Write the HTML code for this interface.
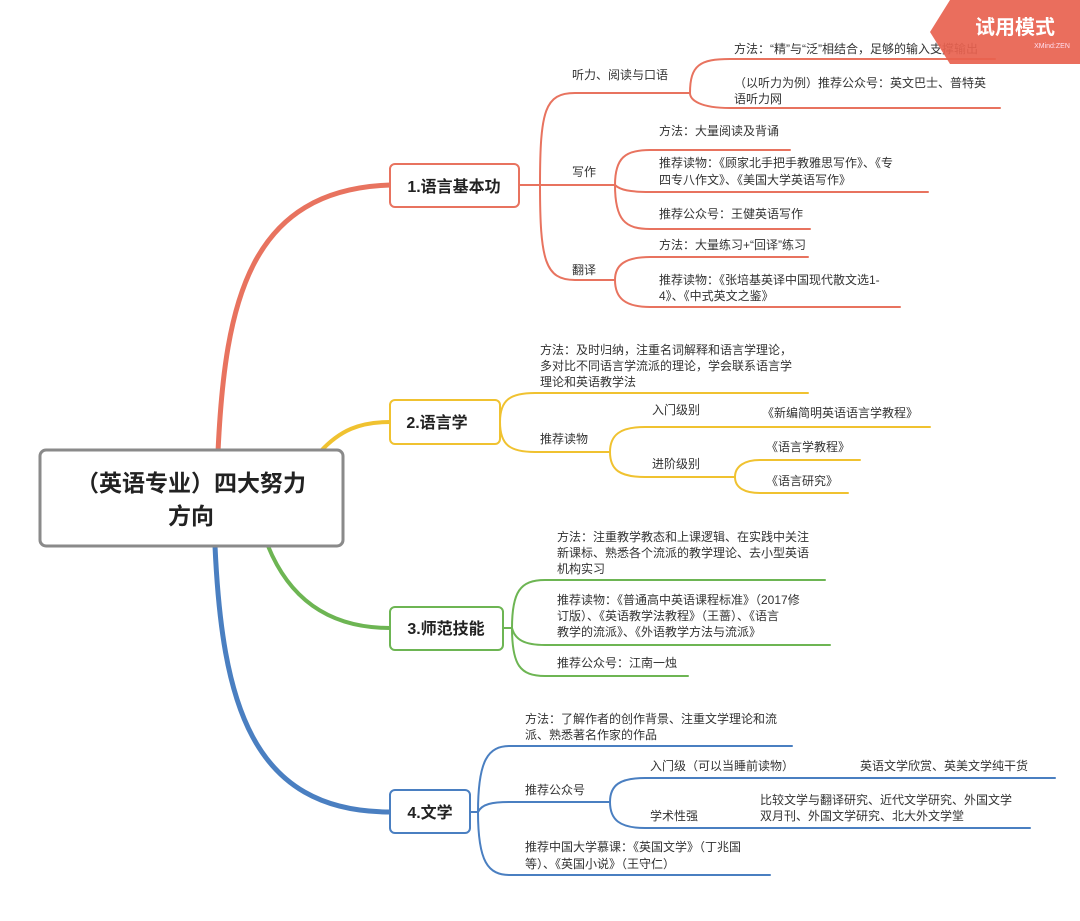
<!DOCTYPE html>
<html><head><meta charset="utf-8"><style>
body{margin:0;background:#fff}
svg text{font-family:"Liberation Sans","Noto Sans CJK SC",sans-serif;fill:#333;font-size:12px}
</style></head><body>
<svg width="1080" height="916" viewBox="0 0 1080 916" xmlns="http://www.w3.org/2000/svg">
<g fill="none" stroke-linecap="round">
<!-- main branches -->
<path d="M218 452 C 225 300, 250 190, 390 185" stroke="#e8735f" stroke-width="5"/>
<path d="M320 452 C 340 430, 360 422, 390 422" stroke="#f0c230" stroke-width="4"/>
<path d="M268 546 C 290 600, 330 628, 390 628" stroke="#6db553" stroke-width="4"/>
<path d="M215 546 C 222 700, 250 812, 390 812" stroke="#4a7fc1" stroke-width="5"/>
<!-- red -->
<g stroke="#e8735f" stroke-width="2">
<path d="M519 185 H540"/>
<path d="M540 185 C 540 110, 545 93, 575 93 H690"/>
<path d="M540 185 H615"/>
<path d="M540 185 C 540 260, 545 280, 575 280 H615"/>
<path d="M690 93 C 690 65, 700 59, 730 59 H995"/>
<path d="M690 93 C 690 100, 700 108, 730 108 H1000"/>
<path d="M615 185 C 615 158, 625 150, 650 150 H790"/>
<path d="M615 185 C 620 190, 630 192, 650 192 H928"/>
<path d="M615 185 C 615 220, 625 229, 650 229 H810"/>
<path d="M615 280 C 615 265, 625 257, 650 257 H808"/>
<path d="M615 280 C 615 298, 625 307, 650 307 H900"/>
</g>
<!-- yellow -->
<g stroke="#f0c230" stroke-width="2">
<path d="M500 422 C 500 400, 510 393, 535 393 H808"/>
<path d="M500 422 C 500 445, 510 452, 535 452 H610"/>
<path d="M610 452 C 610 435, 620 427, 645 427 H930"/>
<path d="M610 452 C 610 470, 620 477, 645 477 H735"/>
<path d="M735 477 C 735 466, 745 460, 760 460 H860"/>
<path d="M735 477 C 735 488, 745 493, 760 493 H848"/>
</g>
<!-- green -->
<g stroke="#6db553" stroke-width="2">
<path d="M503 628 H512"/>
<path d="M512 628 C 512 592, 520 580, 545 580 H825"/>
<path d="M512 628 C 515 640, 525 645, 545 645 H830"/>
<path d="M512 628 C 512 665, 520 676, 545 676 H688"/>
</g>
<!-- blue -->
<g stroke="#4a7fc1" stroke-width="2">
<path d="M470 812 H478"/>
<path d="M478 812 C 478 760, 488 746, 510 746 H792"/>
<path d="M478 812 C 482 804, 492 802, 510 802 H610"/>
<path d="M478 812 C 478 862, 488 875, 510 875 H770"/>
<path d="M610 802 C 610 785, 620 778, 645 778 H1055"/>
<path d="M610 802 C 610 820, 620 828, 645 828 H1030"/>
</g>
</g>
<!-- boxes -->
<rect x="40" y="450" width="303" height="96" rx="6" fill="#fff" stroke="#8a8a8a" stroke-width="3"/>
<text x="191" y="491" text-anchor="middle" style="font-size:23px;font-weight:bold;fill:#222">（英语专业）四大努力</text>
<text x="191" y="524" text-anchor="middle" style="font-size:23px;font-weight:bold;fill:#222">方向</text>
<rect x="390" y="164" width="129" height="43" rx="5" fill="#fff" stroke="#e8735f" stroke-width="2"/>
<text x="454" y="192" text-anchor="middle" style="font-size:16px;font-weight:bold;fill:#222">1.语言基本功</text>
<rect x="390" y="400" width="110" height="44" rx="5" fill="#fff" stroke="#f0c230" stroke-width="2"/>
<text x="437" y="428" text-anchor="middle" style="font-size:16px;font-weight:bold;fill:#222">2.语言学</text>
<rect x="390" y="607" width="113" height="43" rx="5" fill="#fff" stroke="#6db553" stroke-width="2"/>
<text x="446" y="634" text-anchor="middle" style="font-size:16px;font-weight:bold;fill:#222">3.师范技能</text>
<rect x="390" y="790" width="80" height="43" rx="5" fill="#fff" stroke="#4a7fc1" stroke-width="2"/>
<text x="430" y="818" text-anchor="middle" style="font-size:16px;font-weight:bold;fill:#222">4.文学</text>
<!-- red texts -->
<text x="572" y="79">听力、阅读与口语</text>
<text x="734" y="53">方法：“精”与“泛”相结合，足够的输入支撑输出</text>
<text x="734" y="87">（以听力为例）推荐公众号：英文巴士、普特英</text>
<text x="734" y="103">语听力网</text>
<text x="572" y="176">写作</text>
<text x="659" y="135">方法：大量阅读及背诵</text>
<text x="659" y="167">推荐读物：《顾家北手把手教雅思写作》、《专</text>
<text x="659" y="184">四专八作文》、《美国大学英语写作》</text>
<text x="659" y="218">推荐公众号：王健英语写作</text>
<text x="572" y="274">翻译</text>
<text x="659" y="249">方法：大量练习+“回译”练习</text>
<text x="659" y="284">推荐读物：《张培基英译中国现代散文选1-</text>
<text x="659" y="300">4》、《中式英文之鉴》</text>
<!-- yellow texts -->
<text x="540" y="354">方法：及时归纳，注重名词解释和语言学理论，</text>
<text x="540" y="370">多对比不同语言学流派的理论，学会联系语言学</text>
<text x="540" y="386">理论和英语教学法</text>
<text x="540" y="443">推荐读物</text>
<text x="652" y="414">入门级别</text>
<text x="762" y="417">《新编简明英语语言学教程》</text>
<text x="652" y="468">进阶级别</text>
<text x="766" y="451">《语言学教程》</text>
<text x="766" y="485">《语言研究》</text>
<!-- green texts -->
<text x="557" y="541">方法：注重教学教态和上课逻辑、在实践中关注</text>
<text x="557" y="557">新课标、熟悉各个流派的教学理论、去小型英语</text>
<text x="557" y="573">机构实习</text>
<text x="557" y="604">推荐读物：《普通高中英语课程标准》（2017修</text>
<text x="557" y="620">订版）、《英语教学法教程》（王蔷）、《语言</text>
<text x="557" y="636">教学的流派》、《外语教学方法与流派》</text>
<text x="557" y="667">推荐公众号：江南一烛</text>
<!-- blue texts -->
<text x="525" y="723">方法：了解作者的创作背景、注重文学理论和流</text>
<text x="525" y="739">派、熟悉著名作家的作品</text>
<text x="525" y="794">推荐公众号</text>
<text x="650" y="770">入门级（可以当睡前读物）</text>
<text x="860" y="770">英语文学欣赏、英美文学纯干货</text>
<text x="650" y="820">学术性强</text>
<text x="760" y="804">比较文学与翻译研究、近代文学研究、外国文学</text>
<text x="760" y="820">双月刊、外国文学研究、北大外文学堂</text>
<text x="525" y="851">推荐中国大学慕课：《英国文学》（丁兆国</text>
<text x="525" y="868">等）、《英国小说》（王守仁）</text>
<!-- watermark -->
<polygon points="950,0 1080,0 1080,64 950,64 930,32" fill="#e8624f" opacity="0.92"/>
<text x="1015" y="34" text-anchor="middle" style="font-size:20px;font-weight:bold;fill:#fff">试用模式</text>
<text x="1052" y="48" text-anchor="middle" style="font-size:7px;fill:#fde">XMind:ZEN</text>
</svg>
</body></html>
